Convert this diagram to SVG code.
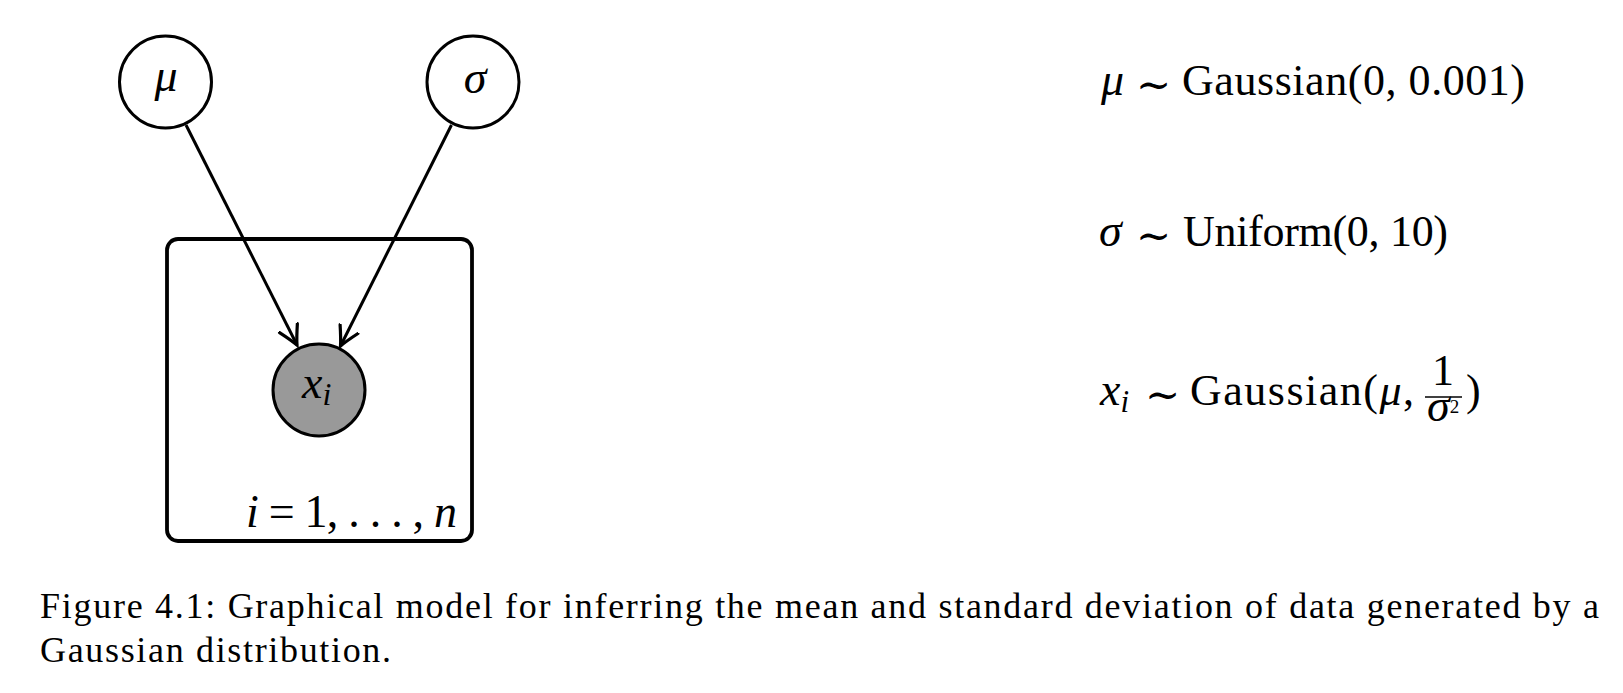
<svg xmlns="http://www.w3.org/2000/svg" width="1623" height="693" viewBox="0 0 1623 693">
<style>
.node{fill:#fff;stroke:#000;stroke-width:3}
.obs{fill:#999999;stroke:#000;stroke-width:3}
.plate{fill:none;stroke:#000;stroke-width:3.8}
.edge{fill:none;stroke:#000;stroke-width:3}
.m{font-family:"Liberation Serif","DejaVu Serif",serif;font-style:italic;font-size:46px;fill:#000}
.r{font-family:"Liberation Serif","DejaVu Serif",serif;font-size:44px;fill:#000}
.t{font-family:"DejaVu Serif","DejaVu Sans",serif;font-size:42px;fill:#000}
.cap{font-family:"Liberation Serif","DejaVu Serif",serif;font-size:36px;fill:#000}
</style>
<defs>
<marker id="arr" markerUnits="userSpaceOnUse" markerWidth="40" markerHeight="40" refX="0" refY="0" viewBox="-20 -20 40 40" orient="auto">
<path d="M-19,-10 Q-7,-3 0,0 Q-7,3 -19,10" fill="none" stroke="#000" stroke-width="3.2" stroke-linecap="round" stroke-linejoin="miter"/>
</marker>
</defs>
<g id="plate">
<rect class="plate" x="167" y="239" width="305" height="302" rx="11" ry="11"/>
<text class="m" x="246" y="527" font-size="43" textLength="211" lengthAdjust="spacing">i <tspan font-style="normal">= 1, . . . ,</tspan> n</text>
</g>
<g id="connectors">
<line class="edge" x1="186" y1="125" x2="297" y2="345" marker-end="url(#arr)"/>
<line class="edge" x1="451.5" y1="125" x2="340.5" y2="346" marker-end="url(#arr)"/>
</g>
<g id="node-mu">
<circle class="node" cx="165.5" cy="82" r="46"/>
<text class="m" x="166" y="91" text-anchor="middle" font-size="48">μ</text>
</g>
<g id="node-sigma">
<circle class="node" cx="473" cy="82" r="46"/>
<text class="m" x="475" y="93" text-anchor="middle" font-size="48">σ</text>
</g>
<g id="node-x">
<circle class="obs" cx="319" cy="390" r="46"/>
<text class="m" x="302" y="398" font-size="48">x<tspan font-size="32" dy="7">i</tspan></text>
</g>
<g id="equations">
<text class="m" x="1101" y="95">μ</text>
<text class="t" x="1136" y="99">∼</text>
<text class="r" x="1182" y="95" textLength="343" lengthAdjust="spacing">Gaussian(0, 0.001)</text>
<text class="m" x="1099" y="246">σ</text>
<text class="t" x="1136" y="250">∼</text>
<text class="r" x="1183" y="246" textLength="265" lengthAdjust="spacing">Uniform(0, 10)</text>
<text class="m" x="1100" y="405">x<tspan font-size="31" dy="7">i</tspan></text>
<text class="t" x="1145" y="409">∼</text>
<text class="r" x="1190" y="405" textLength="224" lengthAdjust="spacing">Gaussian(<tspan font-style="italic">μ</tspan>,</text>
<text class="r" x="1443" y="385" font-size="24" text-anchor="middle">1</text>
<line x1="1425" y1="397" x2="1462" y2="397" stroke="#000" stroke-width="1.6"/>
<text class="m" x="1427" y="421" font-size="24">σ<tspan font-style="normal" font-size="19" dy="-8">2</tspan></text>
<text class="r" x="1466" y="405">)</text>
</g>
<g id="caption">
<text class="cap" x="40" y="618" textLength="1559" lengthAdjust="spacing">Figure 4.1: Graphical model for inferring the mean and standard deviation of data generated by a</text>
<text class="cap" x="40" y="662" textLength="351" lengthAdjust="spacing">Gaussian distribution.</text>
</g>
</svg>
